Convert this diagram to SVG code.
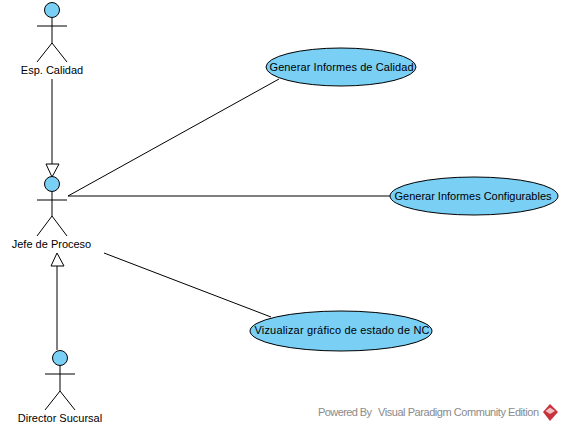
<svg xmlns="http://www.w3.org/2000/svg" width="562" height="429" viewBox="0 0 562 429">
<style>
.l{fill:none;stroke:#000;stroke-width:1}
.h{fill:#7acff5;stroke:#000;stroke-width:1}
.u{fill:#7acff5;stroke:#000;stroke-width:1}
.t{font-family:"Liberation Sans",Arial,sans-serif;font-size:11px;fill:#000;text-anchor:middle}
.w{font-family:"Liberation Sans",Arial,sans-serif;font-size:11px;fill:#8a8a8a}
.a{fill:#fff;stroke:#000;stroke-width:1}
</style>
<rect width="562" height="429" fill="#fff"/>
<g id="connectors">
<path class="l" d="M52 79V164"/>
<path class="a" d="M52 177L46 164H59Z"/>
<path class="l" d="M57 266V350"/>
<path class="a" d="M57 253L51 266H64Z"/>
<path class="l" d="M68 196L279 79"/>
<path class="l" d="M68 196H390"/>
<path class="l" d="M104 253L271 317"/>
</g>
<g id="actor-esp">
<circle class="h" cx="52" cy="10" r="7.5"/>
<path class="l" d="M52 18V43M37 26H67M37 62L52 43L67 62"/>
<text class="t" x="52" y="74">Esp. Calidad</text>
</g>
<g id="actor-jefe">
<circle class="h" cx="52" cy="184" r="7.5"/>
<path class="l" d="M52 192V216M37 200H67M37 236L52 216L67 236"/>
<text class="t" x="51.500" y="248">Jefe de Proceso</text>
</g>
<g id="actor-director">
<circle class="h" cx="60" cy="358" r="7.500"/>
<path class="l" d="M60 366V391M45 374H75M45 410L60 391L75 410"/>
<text class="t" x="60" y="422">Director Sucursal</text>
</g>
<g id="uc-calidad">
<ellipse class="u" cx="341" cy="67" rx="75" ry="19"/>
<text class="t" x="341.500" y="71" textLength="144">Generar Informes de Calidad</text>
</g>
<g id="uc-config">
<ellipse class="u" cx="474" cy="196" rx="84" ry="19"/>
<text class="t" x="473" y="200" textLength="157">Generar Informes Configurables</text>
</g>
<g id="uc-grafico">
<ellipse class="u" cx="341" cy="331" rx="91" ry="20"/>
<text class="t" x="342" y="334" textLength="175">Vizualizar gráfico de estado de NC</text>
</g>
<g id="watermark">
<text class="w" x="318" y="416" textLength="54">Powered By</text>
<text class="w" x="378" y="416" textLength="161">Visual Paradigm Community Edition</text>
<path d="M550 404L558 412L550 421L543 412Z" fill="#c8323c"/>
<path d="M545.500 411L550 407.500L555 411L550 414Z" fill="#fff" opacity=".7"/>
</g>
</svg>
